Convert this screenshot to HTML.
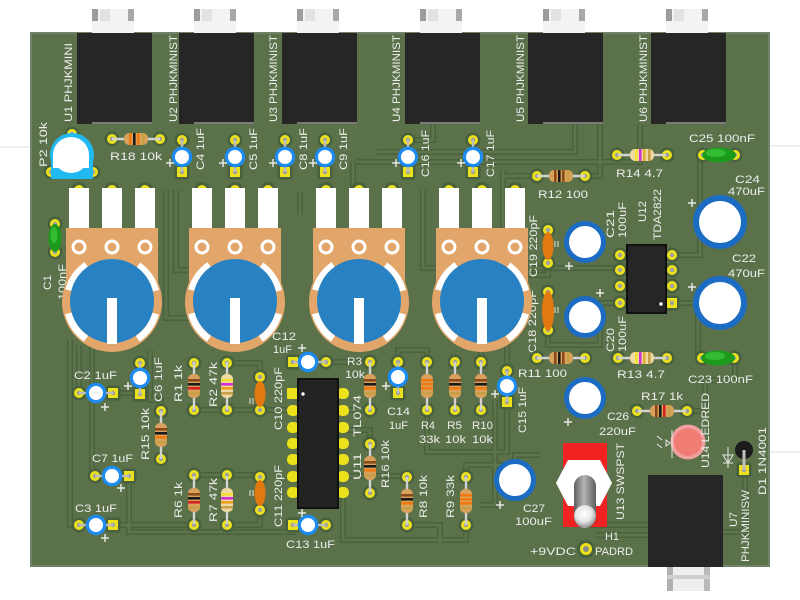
<!DOCTYPE html>
<html><head><meta charset="utf-8">
<style>
html,body{margin:0;padding:0;background:#fff;}
svg{display:block;}
text{font-family:"Liberation Sans",sans-serif;font-size:11px;fill:#ededed;}
</style></head><body>
<svg xmlns="http://www.w3.org/2000/svg" width="800" height="600" viewBox="0 0 800 600">
<defs>
<g id="pd"><circle r="7.5" fill="#48603d"/><circle r="5" fill="#ece21c"/><circle r="2.2" fill="#a0a0a0"/></g>
<g id="ps"><rect x="-7.5" y="-7.5" width="15" height="15" rx="3" fill="#48603d"/><rect x="-5" y="-5" width="10" height="10" fill="#ece21c"/><circle r="2.2" fill="#a0a0a0"/></g>
<g id="cv"><use href="#pd" y="-17"/><use href="#ps" y="15"/><line y1="-17" y2="15" stroke="#bdbdbd" stroke-width="2.4"/><circle r="8.6" fill="#fff" stroke="#1c8cf2" stroke-width="3.2"/></g>
<g id="cv2"><use href="#pd" y="-15"/><use href="#ps" y="16"/><line y1="-15" y2="16" stroke="#bdbdbd" stroke-width="2.4"/><circle r="8.6" fill="#fff" stroke="#1c8cf2" stroke-width="3.2"/></g>
<g id="chl"><use href="#pd" x="-17"/><use href="#ps" x="17"/><line x1="-17" x2="17" stroke="#bdbdbd" stroke-width="2.4"/><circle r="8.6" fill="#fff" stroke="#1c8cf2" stroke-width="3.2"/></g>
<g id="chr"><use href="#ps" x="-15"/><use href="#pd" x="18"/><line x1="-15" x2="18" stroke="#bdbdbd" stroke-width="2.4"/><circle r="8.6" fill="#fff" stroke="#1c8cf2" stroke-width="3.2"/></g>
<g id="rt"><line x1="-24" x2="24" stroke="#d2d2d2" stroke-width="2.4"/><rect x="-12" y="-6" width="24" height="12" rx="5" fill="#d8a25c"/></g>
<g id="rc"><line x1="-24" x2="24" stroke="#d2d2d2" stroke-width="2.4"/><rect x="-12" y="-6" width="24" height="12" rx="5" fill="#f1d9a4"/></g>
<g id="pot">
 <circle cx="-33" cy="-112" r="8" fill="#48603d"/><circle cx="-33" cy="-112" r="5" fill="#ece21c"/>
 <circle cx="0" cy="-112" r="8" fill="#48603d"/><circle cx="0" cy="-112" r="5" fill="#ece21c"/>
 <circle cx="33" cy="-112" r="8" fill="#48603d"/><circle cx="33" cy="-112" r="5" fill="#ece21c"/>
 <rect x="-43" y="-114" width="20" height="41" fill="#fff"/>
 <rect x="-10" y="-114" width="20" height="41" fill="#fff"/>
 <rect x="23" y="-114" width="20" height="41" fill="#fff"/>
 <rect x="-46" y="-74" width="92" height="74" fill="#e2a66b"/>
 <circle r="50" fill="#e2a66b"/>
 <circle cx="-33" cy="-55" r="7.5" fill="#fff"/><circle cx="-33" cy="-55" r="4.5" fill="#e2a66b"/>
 <circle cx="0" cy="-55" r="7.5" fill="#fff"/><circle cx="0" cy="-55" r="4.5" fill="#e2a66b"/>
 <circle cx="33" cy="-55" r="7.5" fill="#fff"/><circle cx="33" cy="-55" r="4.5" fill="#e2a66b"/>
 <circle r="45" fill="none" stroke="#fff" stroke-width="7" stroke-dasharray="31.4 55 31.4 23.6" stroke-dashoffset="-11.8"/>
 <circle cx="0" cy="-1" r="42" fill="#2781c3"/>
 <rect x="-5" y="-4" width="10" height="46" fill="#fff"/>
</g>
<g id="conn">
 <rect x="15" y="9" width="42" height="24" fill="#f3f3f3"/>
 <rect x="15" y="9" width="6" height="12" fill="#9c9c9c"/>
 <rect x="51" y="9" width="6" height="12" fill="#a8a8a8"/>
 <rect x="23" y="9" width="10" height="12" fill="#e2e2e2"/>
 <rect x="0" y="33" width="75" height="91" fill="#262626"/>
 <rect x="15" y="122" width="60" height="2" fill="#7a7a7a"/>
</g>
<g id="plus"><line x1="-4" x2="4" stroke="#eee" stroke-width="1.4"/><line y1="-4" y2="4" stroke="#eee" stroke-width="1.4"/></g>
<g id="trs" fill="none">
 <path d="M79 393V345"/><path d="M79 525H70V340"/><path d="M92 345V476H96"/>
 <path d="M113 393H140V395"/><path d="M113 525H194"/><path d="M129 476V532H293V525"/>
 <path d="M194 410H288"/><path d="M227 363H260V377"/><path d="M194 475H260"/><path d="M227 525H260V510"/>
 <path d="M166 190V318H190"/><path d="M176 190V270H188"/><path d="M161 411V400H150V350"/>
 <path d="M357 162H640V124"/><path d="M377 152H575V124"/><path d="M433 124V140H408"/><path d="M600 124V176H585"/>
 <path d="M423 190V268H436"/><path d="M300 192V215H300"/><path d="M353 162V200"/>
 <path d="M326 362H370"/><path d="M343 410H370"/><path d="M343 476H407"/><path d="M343 492V540H466V525"/>
 <path d="M370 444V430H343"/><path d="M398 362V350H427V362"/><path d="M427 410V452H507V402"/>
 <path d="M466 477V465H515V455H540"/><path d="M407 525H440V545"/><path d="M481 362V340H507V370"/>
 <path d="M503 170V268H620"/><path d="M537 176H503"/><path d="M620 303H600V345H548V330"/>
 <path d="M672 255H700V155H703"/><path d="M672 303H698V358H703"/><path d="M687 411H705V380H735V358"/>
 <path d="M585 525H648"/><path d="M596 535H648"/><path d="M723 532H745V470"/><path d="M495 400V505H480"/>
 <path d="M548 263V275H510"/>
</g>
<radialGradient id="ball" cx="0.45" cy="0.4" r="0.6"><stop offset="0" stop-color="#ffffff"/><stop offset="0.6" stop-color="#e6e6e6"/><stop offset="1" stop-color="#9a9a9a"/></radialGradient>
<linearGradient id="lev" x1="0" x2="1" y1="0" y2="0"><stop offset="0" stop-color="#5e5e5e"/><stop offset="0.45" stop-color="#b4b4b4"/><stop offset="1" stop-color="#5e5e5e"/></linearGradient>
</defs>

<!-- outside faint lines -->
<line x1="0" y1="147" x2="31" y2="147" stroke="#dcdce8" stroke-width="1"/>
<line x1="769" y1="146" x2="800" y2="146" stroke="#dcdce8" stroke-width="1"/>
<line x1="769" y1="452" x2="800" y2="452" stroke="#dcdce8" stroke-width="1"/>

<!-- board -->
<rect x="31" y="33" width="738" height="533" fill="#5a7149" stroke="#73836a" stroke-width="2"/>

<!-- traces -->
<use href="#trs" stroke="#4a613e" stroke-width="6"/>
<use href="#trs" stroke="#5c7449" stroke-width="3"/>

<!-- labels under pots -->
<text transform="translate(51,290) rotate(-90)" textLength="15" lengthAdjust="spacingAndGlyphs">C1</text>
<text transform="translate(66,300) rotate(-90)" textLength="36" lengthAdjust="spacingAndGlyphs">100nF</text>
<text transform="translate(537,277) rotate(-90)" textLength="62" lengthAdjust="spacingAndGlyphs">C19 220pF</text>
<text transform="translate(536,353) rotate(-90)" textLength="63" lengthAdjust="spacingAndGlyphs">C18 220pF</text>

<!-- connectors top -->
<use href="#conn" x="77"/><use href="#conn" x="179"/><use href="#conn" x="282"/>
<use href="#conn" x="405"/><use href="#conn" x="528"/><use href="#conn" x="651"/>

<!-- P2 trimmer -->
<use href="#pd" x="72" y="134"/><use href="#pd" x="51" y="172"/><use href="#pd" x="93" y="172"/>
<circle cx="72" cy="155" r="22" fill="#22b9f2"/>
<rect x="51" y="158" width="42" height="21" fill="#22b9f2"/>
<circle cx="71" cy="155" r="18" fill="#fff"/>
<rect x="53" y="155" width="36" height="13" fill="#fff"/>

<!-- R18 -->
<use href="#pd" x="112" y="139"/><use href="#pd" x="160" y="139"/>
<g transform="translate(136,139)"><use href="#rt"/><rect x="-7" y="-6" width="2.6" height="12" fill="#f07a10"/><rect x="-3" y="-6" width="2.6" height="12" fill="#1a1a1a"/><rect x="1" y="-6" width="2.6" height="12" fill="#f07a10"/><rect x="6" y="-6" width="2.6" height="12" fill="#c8a048"/></g>

<!-- top caps -->
<use href="#cv" x="182" y="157"/><use href="#cv" x="235" y="157"/><use href="#cv" x="285" y="157"/>
<use href="#cv" x="325" y="157"/><use href="#cv" x="408" y="157"/><use href="#cv" x="473" y="157"/>
<use href="#plus" x="170" y="163"/><use href="#plus" x="223" y="163"/><use href="#plus" x="273" y="163"/>
<use href="#plus" x="313" y="163"/><use href="#plus" x="396" y="163"/><use href="#plus" x="461" y="163"/>

<!-- C1 green -->
<use href="#pd" x="55" y="224"/><use href="#pd" x="55" y="252"/>
<ellipse cx="55" cy="238" rx="6.5" ry="14" fill="#1c9a1c"/>
<ellipse cx="54" cy="235" rx="3.5" ry="8" fill="#34bb34"/>

<!-- pots -->
<use href="#pot" x="112" y="302"/><use href="#pot" x="235" y="302"/>
<use href="#pot" x="359" y="302"/><use href="#pot" x="482" y="302"/>

<!-- R12, R14 -->
<use href="#pd" x="537" y="176"/><use href="#pd" x="585" y="176"/>
<g transform="translate(561,176)"><use href="#rt"/><rect x="-7" y="-6" width="2.6" height="12" fill="#8a4a1c"/><rect x="-3" y="-6" width="2.6" height="12" fill="#1a1a1a"/><rect x="1" y="-6" width="2.6" height="12" fill="#8a4a1c"/><rect x="6" y="-6" width="2.6" height="12" fill="#c8a048"/></g>
<use href="#pd" x="617" y="155"/><use href="#pd" x="667" y="155"/>
<g transform="translate(642,155)"><use href="#rc"/><rect x="-7" y="-6" width="2.6" height="12" fill="#f0e030"/><rect x="-3" y="-6" width="2.6" height="12" fill="#d030d0"/><rect x="1" y="-6" width="2.6" height="12" fill="#e0b030"/><rect x="6" y="-6" width="2.6" height="12" fill="#c8a048"/></g>

<!-- C25, C23 green -->
<use href="#pd" x="703" y="155"/><use href="#pd" x="735" y="155"/>
<ellipse cx="719" cy="155" rx="17" ry="7.5" fill="#1c9a1c"/><ellipse cx="716" cy="153" rx="10" ry="4" fill="#34bb34"/>
<use href="#pd" x="702" y="358"/><use href="#pd" x="734" y="358"/>
<ellipse cx="718" cy="358" rx="17" ry="7.5" fill="#1c9a1c"/><ellipse cx="715" cy="356" rx="10" ry="4" fill="#34bb34"/>

<!-- big caps -->
<circle cx="720" cy="222" r="24" fill="#fff" stroke="#1c6cc4" stroke-width="6"/>
<circle cx="720" cy="303" r="24" fill="#fff" stroke="#1c6cc4" stroke-width="6"/>
<circle cx="585" cy="242" r="18.5" fill="#fff" stroke="#1c6cc4" stroke-width="5"/>
<circle cx="585" cy="317" r="18.5" fill="#fff" stroke="#1c6cc4" stroke-width="5"/>
<circle cx="585" cy="398" r="18.5" fill="#fff" stroke="#1c6cc4" stroke-width="5"/>
<circle cx="515" cy="480" r="18.5" fill="#fff" stroke="#1c6cc4" stroke-width="5"/>
<use href="#plus" x="692" y="203"/><use href="#plus" x="692" y="287"/><use href="#plus" x="569" y="266"/>
<use href="#plus" x="600" y="293"/><use href="#plus" x="568" y="422"/><use href="#plus" x="500" y="505"/>

<!-- C19 C18 orange -->
<use href="#pd" x="548" y="230"/><use href="#pd" x="548" y="263"/>
<ellipse cx="548" cy="246" rx="5.5" ry="14" fill="#e27810"/>
<use href="#pd" x="548" y="292"/><use href="#pd" x="548" y="330"/>
<ellipse cx="548" cy="311" rx="6" ry="20" fill="#e27810"/>
<path d="M555 241v6M558 241v6M555 307v6M558 307v6" stroke="#e8e8e8" stroke-width="1"/>

<!-- U12 -->
<use href="#pd" x="620" y="255"/><use href="#pd" x="620" y="270"/><use href="#pd" x="620" y="286"/><use href="#pd" x="620" y="303"/>
<use href="#pd" x="672" y="255"/><use href="#pd" x="672" y="270"/><use href="#pd" x="672" y="286"/><use href="#ps" x="672" y="303"/>
<rect x="627" y="245" width="39" height="68" fill="#262626" stroke="#111" stroke-width="2"/>
<circle cx="661" cy="304" r="1.7" fill="#fff"/>

<!-- R11 R13 -->
<use href="#pd" x="537" y="358"/><use href="#pd" x="585" y="358"/>
<g transform="translate(561,358)"><use href="#rt"/><rect x="-7" y="-6" width="2.6" height="12" fill="#8a4a1c"/><rect x="-3" y="-6" width="2.6" height="12" fill="#1a1a1a"/><rect x="1" y="-6" width="2.6" height="12" fill="#8a4a1c"/><rect x="6" y="-6" width="2.6" height="12" fill="#c8a048"/></g>
<use href="#pd" x="618" y="358"/><use href="#pd" x="667" y="358"/>
<g transform="translate(642,358)"><use href="#rc"/><rect x="-7" y="-6" width="2.6" height="12" fill="#f0e030"/><rect x="-3" y="-6" width="2.6" height="12" fill="#d030d0"/><rect x="1" y="-6" width="2.6" height="12" fill="#e0b030"/><rect x="6" y="-6" width="2.6" height="12" fill="#c8a048"/></g>

<!-- R17 -->
<use href="#pd" x="637" y="411"/><use href="#pd" x="687" y="411"/>
<g transform="translate(662,411)"><use href="#rt"/><rect x="-7" y="-6" width="2.6" height="12" fill="#8a4a1c"/><rect x="-3" y="-6" width="2.6" height="12" fill="#1a1a1a"/><rect x="1" y="-6" width="2.6" height="12" fill="#d42020"/><rect x="6" y="-6" width="2.6" height="12" fill="#c8a048"/></g>

<!-- LED -->
<circle cx="688" cy="442" r="17.5" fill="#f0a0a0"/>
<circle cx="688" cy="442" r="14" fill="#f07c74"/>
<path d="M672 430V458M666 440l4 3-4 3zM657 436l5 4M657 444l5 4" stroke="#e8e8e8" stroke-width="1" fill="none"/>

<!-- D1 -->
<use href="#ps" x="744" y="470"/>
<line x1="744" y1="452" x2="744" y2="470" stroke="#b0b0b0" stroke-width="3"/>
<circle cx="744" cy="450" r="9" fill="#1a1a1a"/>
<line x1="744" y1="450" x2="744" y2="470" stroke="#c0c0c0" stroke-width="3"/>
<path d="M728 447V468M723 455H733L728 463ZM723 463H733" stroke="#e8e8e8" stroke-width="1" fill="none"/>

<!-- switch -->
<rect x="563" y="443" width="44" height="84" fill="#f02222"/>
<polygon points="568,460 600,460 612,483 600,506 568,506 556,483" fill="#fff"/>
<rect x="574" y="475" width="22" height="53" rx="11" fill="url(#lev)"/>
<circle cx="585" cy="516" r="11" fill="url(#ball)"/>

<!-- H1 -->
<circle cx="586" cy="549" r="9" fill="#48603d"/><circle cx="586" cy="549" r="6" fill="#ece21c"/><circle cx="586" cy="549" r="3" fill="#8a8a8a"/>

<!-- jack U7 -->
<rect x="667" y="567" width="43" height="24" fill="#eeeeee"/>
<rect x="667" y="567" width="6" height="24" fill="#b0b0b0"/>
<rect x="704" y="567" width="6" height="24" fill="#bababa"/>
<rect x="667" y="575" width="43" height="4" fill="#cfcfcf"/>
<rect x="648" y="475" width="75" height="92" fill="#262626"/>

<!-- left small caps -->
<use href="#chl" x="96" y="393"/><use href="#chl" x="112" y="476"/><use href="#chl" x="96" y="525"/>
<use href="#plus" x="105" y="407"/><use href="#plus" x="121" y="488"/><use href="#plus" x="105" y="538"/>
<use href="#cv2" x="140" y="378"/><use href="#plus" x="128" y="386"/>

<!-- R15 -->
<use href="#pd" x="161" y="411"/><use href="#pd" x="161" y="459"/>
<g transform="translate(161,435) rotate(90)"><use href="#rt"/><rect x="-7" y="-6" width="2.6" height="12" fill="#8a4a1c"/><rect x="-3" y="-6" width="2.6" height="12" fill="#1a1a1a"/><rect x="1" y="-6" width="2.6" height="12" fill="#f07a10"/><rect x="6" y="-6" width="2.6" height="12" fill="#c8a048"/></g>
<!-- R1 R2 R6 R7 -->
<use href="#pd" x="194" y="363"/><use href="#pd" x="194" y="410"/>
<g transform="translate(194,386) rotate(90)"><use href="#rt"/><rect x="-7" y="-6" width="2.6" height="12" fill="#8a4a1c"/><rect x="-3" y="-6" width="2.6" height="12" fill="#1a1a1a"/><rect x="1" y="-6" width="2.6" height="12" fill="#d42020"/><rect x="6" y="-6" width="2.6" height="12" fill="#c8a048"/></g>
<use href="#pd" x="227" y="363"/><use href="#pd" x="227" y="410"/>
<g transform="translate(227,386) rotate(90)"><use href="#rc"/><rect x="-7" y="-6" width="2.6" height="12" fill="#f0e030"/><rect x="-3" y="-6" width="2.6" height="12" fill="#d030d0"/><rect x="1" y="-6" width="2.6" height="12" fill="#f0a020"/><rect x="6" y="-6" width="2.6" height="12" fill="#c8a048"/></g>
<use href="#pd" x="194" y="475"/><use href="#pd" x="194" y="525"/>
<g transform="translate(194,500) rotate(90)"><use href="#rt"/><rect x="-7" y="-6" width="2.6" height="12" fill="#8a4a1c"/><rect x="-3" y="-6" width="2.6" height="12" fill="#1a1a1a"/><rect x="1" y="-6" width="2.6" height="12" fill="#d42020"/><rect x="6" y="-6" width="2.6" height="12" fill="#c8a048"/></g>
<use href="#pd" x="227" y="475"/><use href="#pd" x="227" y="525"/>
<g transform="translate(227,500) rotate(90)"><use href="#rc"/><rect x="-7" y="-6" width="2.6" height="12" fill="#f0e030"/><rect x="-3" y="-6" width="2.6" height="12" fill="#d030d0"/><rect x="1" y="-6" width="2.6" height="12" fill="#f0a020"/><rect x="6" y="-6" width="2.6" height="12" fill="#c8a048"/></g>

<!-- C10 C11 -->
<use href="#pd" x="260" y="377"/><use href="#pd" x="260" y="410"/>
<ellipse cx="260" cy="394" rx="5.5" ry="13" fill="#e27810"/>
<use href="#pd" x="260" y="477"/><use href="#pd" x="260" y="510"/>
<ellipse cx="260" cy="493" rx="5.5" ry="13" fill="#e27810"/>
<path d="M250 398v6M253 398v6M250 490v6M253 490v6" stroke="#e8e8e8" stroke-width="1"/>

<!-- U11 -->
<g fill="#ece21c">
<rect x="287" y="388" width="12" height="11" rx="1"/>
<rect x="287" y="405" width="12" height="11" rx="5"/><rect x="287" y="422" width="12" height="11" rx="5"/><rect x="287" y="438" width="12" height="11" rx="5"/><rect x="287" y="454" width="12" height="11" rx="5"/><rect x="287" y="471" width="12" height="11" rx="5"/><rect x="287" y="487" width="12" height="11" rx="5"/>
<rect x="337" y="388" width="12" height="11" rx="5"/><rect x="337" y="405" width="12" height="11" rx="5"/><rect x="337" y="422" width="12" height="11" rx="5"/><rect x="337" y="438" width="12" height="11" rx="5"/><rect x="337" y="454" width="12" height="11" rx="5"/><rect x="337" y="471" width="12" height="11" rx="5"/><rect x="337" y="487" width="12" height="11" rx="5"/>
</g>
<rect x="298" y="379" width="40" height="129" fill="#232323" stroke="#111" stroke-width="2"/>
<circle cx="303" cy="394" r="1.7" fill="#fff"/>

<!-- C12 C13 C14 C15 -->
<use href="#chr" x="308" y="362"/><use href="#plus" x="302" y="348"/>
<use href="#chr" x="308" y="525"/><use href="#plus" x="302" y="513"/>
<use href="#cv2" x="398" y="377"/><use href="#plus" x="386" y="386"/>
<use href="#cv2" x="507" y="386"/><use href="#plus" x="495" y="394"/>

<!-- R3 R4 R5 R10 R16 R8 R9 -->
<use href="#pd" x="370" y="362"/><use href="#pd" x="370" y="410"/>
<g transform="translate(370,386) rotate(90)"><use href="#rt"/><rect x="-7" y="-6" width="2.6" height="12" fill="#8a4a1c"/><rect x="-3" y="-6" width="2.6" height="12" fill="#1a1a1a"/><rect x="1" y="-6" width="2.6" height="12" fill="#f07a10"/><rect x="6" y="-6" width="2.6" height="12" fill="#c8a048"/></g>
<use href="#pd" x="427" y="362"/><use href="#pd" x="427" y="410"/>
<g transform="translate(427,386) rotate(90)"><use href="#rt"/><rect x="-7" y="-6" width="2.6" height="12" fill="#f07a10"/><rect x="-3" y="-6" width="2.6" height="12" fill="#f07a10"/><rect x="1" y="-6" width="2.6" height="12" fill="#f07a10"/><rect x="6" y="-6" width="2.6" height="12" fill="#c8a048"/></g>
<use href="#pd" x="455" y="362"/><use href="#pd" x="455" y="410"/>
<g transform="translate(455,386) rotate(90)"><use href="#rt"/><rect x="-7" y="-6" width="2.6" height="12" fill="#8a4a1c"/><rect x="-3" y="-6" width="2.6" height="12" fill="#1a1a1a"/><rect x="1" y="-6" width="2.6" height="12" fill="#f07a10"/><rect x="6" y="-6" width="2.6" height="12" fill="#c8a048"/></g>
<use href="#pd" x="481" y="362"/><use href="#pd" x="481" y="410"/>
<g transform="translate(481,386) rotate(90)"><use href="#rt"/><rect x="-7" y="-6" width="2.6" height="12" fill="#8a4a1c"/><rect x="-3" y="-6" width="2.6" height="12" fill="#1a1a1a"/><rect x="1" y="-6" width="2.6" height="12" fill="#f07a10"/><rect x="6" y="-6" width="2.6" height="12" fill="#c8a048"/></g>
<use href="#pd" x="370" y="444"/><use href="#pd" x="370" y="493"/>
<g transform="translate(370,468) rotate(90)"><use href="#rt"/><rect x="-7" y="-6" width="2.6" height="12" fill="#8a4a1c"/><rect x="-3" y="-6" width="2.6" height="12" fill="#1a1a1a"/><rect x="1" y="-6" width="2.6" height="12" fill="#f07a10"/><rect x="6" y="-6" width="2.6" height="12" fill="#c8a048"/></g>
<use href="#pd" x="407" y="477"/><use href="#pd" x="407" y="525"/>
<g transform="translate(407,501) rotate(90)"><use href="#rt"/><rect x="-7" y="-6" width="2.6" height="12" fill="#8a4a1c"/><rect x="-3" y="-6" width="2.6" height="12" fill="#1a1a1a"/><rect x="1" y="-6" width="2.6" height="12" fill="#f07a10"/><rect x="6" y="-6" width="2.6" height="12" fill="#c8a048"/></g>
<use href="#pd" x="466" y="477"/><use href="#pd" x="466" y="525"/>
<g transform="translate(466,501) rotate(90)"><use href="#rt"/><rect x="-7" y="-6" width="2.6" height="12" fill="#f07a10"/><rect x="-3" y="-6" width="2.6" height="12" fill="#f07a10"/><rect x="1" y="-6" width="2.6" height="12" fill="#f07a10"/><rect x="6" y="-6" width="2.6" height="12" fill="#c8a048"/></g>

<!-- horizontal labels -->
<text x="110" y="160" textLength="52" lengthAdjust="spacingAndGlyphs">R18 10k</text>
<text x="538" y="198" textLength="50" lengthAdjust="spacingAndGlyphs">R12 100</text>
<text x="616" y="177" textLength="47" lengthAdjust="spacingAndGlyphs">R14 4.7</text>
<text x="689" y="142" textLength="66" lengthAdjust="spacingAndGlyphs">C25 100nF</text>
<text x="735" y="183" textLength="25" lengthAdjust="spacingAndGlyphs">C24</text>
<text x="728" y="195" textLength="37" lengthAdjust="spacingAndGlyphs">470uF</text>
<text x="732" y="262" textLength="24" lengthAdjust="spacingAndGlyphs">C22</text>
<text x="728" y="277" textLength="37" lengthAdjust="spacingAndGlyphs">470uF</text>
<text x="518" y="377" textLength="49" lengthAdjust="spacingAndGlyphs">R11 100</text>
<text x="617" y="378" textLength="48" lengthAdjust="spacingAndGlyphs">R13 4.7</text>
<text x="688" y="383" textLength="65" lengthAdjust="spacingAndGlyphs">C23 100nF</text>
<text x="641" y="400" textLength="42" lengthAdjust="spacingAndGlyphs">R17 1k</text>
<text x="607" y="420" textLength="22" lengthAdjust="spacingAndGlyphs">C26</text>
<text x="599" y="435" textLength="37" lengthAdjust="spacingAndGlyphs">220uF</text>
<text x="523" y="512" textLength="22" lengthAdjust="spacingAndGlyphs">C27</text>
<text x="515" y="525" textLength="37" lengthAdjust="spacingAndGlyphs">100uF</text>
<text x="605" y="540" textLength="14" lengthAdjust="spacingAndGlyphs">H1</text>
<text x="530" y="555" textLength="46" lengthAdjust="spacingAndGlyphs">+9VDC</text>
<text x="595" y="555" textLength="38" lengthAdjust="spacingAndGlyphs">PADRD</text>
<text x="74" y="379" textLength="43" lengthAdjust="spacingAndGlyphs">C2 1uF</text>
<text x="92" y="462" textLength="41" lengthAdjust="spacingAndGlyphs">C7 1uF</text>
<text x="75" y="512" textLength="42" lengthAdjust="spacingAndGlyphs">C3 1uF</text>
<text x="272" y="340" textLength="24" lengthAdjust="spacingAndGlyphs">C12</text>
<text x="273" y="353" textLength="19" lengthAdjust="spacingAndGlyphs">1uF</text>
<text x="347" y="365" textLength="15" lengthAdjust="spacingAndGlyphs">R3</text>
<text x="345" y="378" textLength="20" lengthAdjust="spacingAndGlyphs">10k</text>
<text x="387" y="415" textLength="23" lengthAdjust="spacingAndGlyphs">C14</text>
<text x="389" y="429" textLength="19" lengthAdjust="spacingAndGlyphs">1uF</text>
<text x="421" y="429" textLength="14" lengthAdjust="spacingAndGlyphs">R4</text>
<text x="419" y="443" textLength="21" lengthAdjust="spacingAndGlyphs">33k</text>
<text x="447" y="429" textLength="15" lengthAdjust="spacingAndGlyphs">R5</text>
<text x="445" y="443" textLength="21" lengthAdjust="spacingAndGlyphs">10k</text>
<text x="472" y="429" textLength="21" lengthAdjust="spacingAndGlyphs">R10</text>
<text x="472" y="443" textLength="21" lengthAdjust="spacingAndGlyphs">10k</text>
<text x="286" y="548" textLength="49" lengthAdjust="spacingAndGlyphs">C13 1uF</text>

<!-- rotated labels -->
<text transform="translate(72,122) rotate(-90)" textLength="79" lengthAdjust="spacingAndGlyphs">U1 PHJKMINI</text>
<text transform="translate(177,122) rotate(-90)" textLength="87" lengthAdjust="spacingAndGlyphs">U2 PHJKMINIST</text>
<text transform="translate(277,122) rotate(-90)" textLength="87" lengthAdjust="spacingAndGlyphs">U3 PHJKMINIST</text>
<text transform="translate(400,122) rotate(-90)" textLength="87" lengthAdjust="spacingAndGlyphs">U4 PHJKMINIST</text>
<text transform="translate(524,122) rotate(-90)" textLength="87" lengthAdjust="spacingAndGlyphs">U5 PHJKMINIST</text>
<text transform="translate(647,122) rotate(-90)" textLength="87" lengthAdjust="spacingAndGlyphs">U6 PHJKMINIST</text>
<text transform="translate(47,167) rotate(-90)" textLength="45" lengthAdjust="spacingAndGlyphs">P2 10k</text>
<text transform="translate(204,170) rotate(-90)" textLength="42" lengthAdjust="spacingAndGlyphs">C4 1uF</text>
<text transform="translate(257,170) rotate(-90)" textLength="42" lengthAdjust="spacingAndGlyphs">C5 1uF</text>
<text transform="translate(307,170) rotate(-90)" textLength="42" lengthAdjust="spacingAndGlyphs">C8 1uF</text>
<text transform="translate(347,170) rotate(-90)" textLength="42" lengthAdjust="spacingAndGlyphs">C9 1uF</text>
<text transform="translate(429,177) rotate(-90)" textLength="47" lengthAdjust="spacingAndGlyphs">C16 1uF</text>
<text transform="translate(494,177) rotate(-90)" textLength="47" lengthAdjust="spacingAndGlyphs">C17 1uF</text>
<text transform="translate(182,402) rotate(-90)" textLength="37" lengthAdjust="spacingAndGlyphs">R1 1k</text>
<text transform="translate(217,407) rotate(-90)" textLength="45" lengthAdjust="spacingAndGlyphs">R2 47k</text>
<text transform="translate(282,430) rotate(-90)" textLength="63" lengthAdjust="spacingAndGlyphs">C10 220pF</text>
<text transform="translate(162,402) rotate(-90)" textLength="45" lengthAdjust="spacingAndGlyphs">C6 1uF</text>
<text transform="translate(149,460) rotate(-90)" textLength="52" lengthAdjust="spacingAndGlyphs">R15 10k</text>
<text transform="translate(182,518) rotate(-90)" textLength="36" lengthAdjust="spacingAndGlyphs">R6 1k</text>
<text transform="translate(217,522) rotate(-90)" textLength="44" lengthAdjust="spacingAndGlyphs">R7 47k</text>
<text transform="translate(282,527) rotate(-90)" textLength="62" lengthAdjust="spacingAndGlyphs">C11 220pF</text>
<text transform="translate(361,437) rotate(-90)" textLength="42" lengthAdjust="spacingAndGlyphs">TL074</text>
<text transform="translate(361,480) rotate(-90)" textLength="27" lengthAdjust="spacingAndGlyphs">U11</text>
<text transform="translate(389,488) rotate(-90)" textLength="48" lengthAdjust="spacingAndGlyphs">R16 10k</text>
<text transform="translate(427,518) rotate(-90)" textLength="43" lengthAdjust="spacingAndGlyphs">R8 10k</text>
<text transform="translate(454,518) rotate(-90)" textLength="43" lengthAdjust="spacingAndGlyphs">R9 33k</text>
<text transform="translate(526,433) rotate(-90)" textLength="46" lengthAdjust="spacingAndGlyphs">C15 1uF</text>
<text transform="translate(614,238) rotate(-90)" textLength="28" lengthAdjust="spacingAndGlyphs">C21</text>
<text transform="translate(626,238) rotate(-90)" textLength="36" lengthAdjust="spacingAndGlyphs">100uF</text>
<text transform="translate(646,222) rotate(-90)" textLength="21" lengthAdjust="spacingAndGlyphs">U12</text>
<text transform="translate(661,240) rotate(-90)" textLength="51" lengthAdjust="spacingAndGlyphs">TDA2822</text>
<text transform="translate(614,352) rotate(-90)" textLength="24" lengthAdjust="spacingAndGlyphs">C20</text>
<text transform="translate(626,352) rotate(-90)" textLength="36" lengthAdjust="spacingAndGlyphs">100uF</text>
<text transform="translate(624,520) rotate(-90)" textLength="77" lengthAdjust="spacingAndGlyphs">U13 SWSPST</text>
<text transform="translate(709,468) rotate(-90)" textLength="75" lengthAdjust="spacingAndGlyphs">U14 LEDRED</text>
<text transform="translate(766,495) rotate(-90)" textLength="68" lengthAdjust="spacingAndGlyphs">D1 1N4001</text>
<text transform="translate(737,527) rotate(-90)" textLength="15" lengthAdjust="spacingAndGlyphs">U7</text>
<text transform="translate(749,562) rotate(-90)" textLength="72" lengthAdjust="spacingAndGlyphs">PHJKMINISW</text>
</svg>
</body></html>
